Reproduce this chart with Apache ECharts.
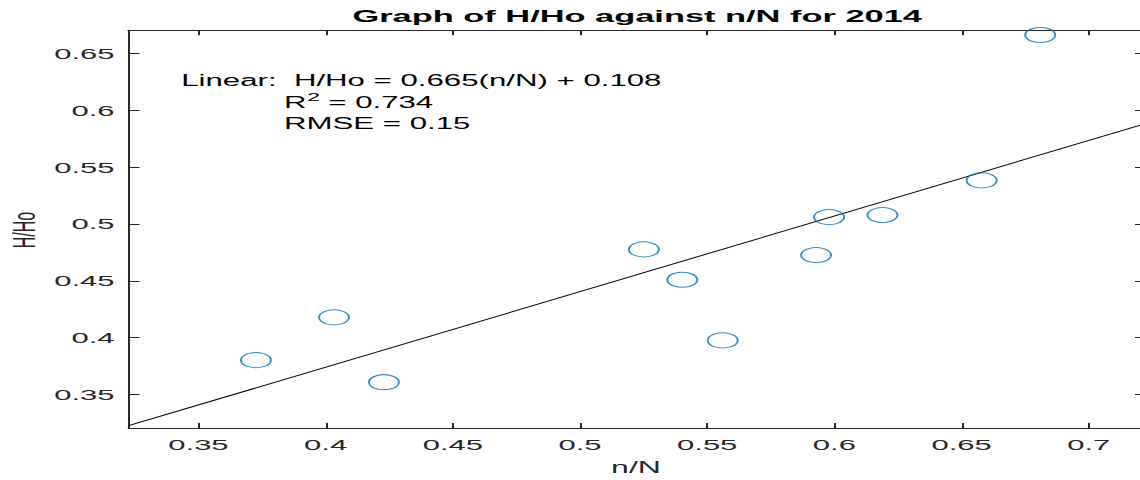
<!DOCTYPE html>
<html><head><meta charset="utf-8">
<script src="https://cdn.jsdelivr.net/npm/echarts@6/dist/echarts.min.js"></script>
<style>
html,body{margin:0;padding:0;background:#fff;overflow:hidden;}
#wrap{width:1140px;height:480px;overflow:hidden;}
#main{width:570px;height:480px;transform:scaleX(2);transform-origin:0 0;}
</style>
</head><body><div id="wrap"><div id="main"></div></div>
<script>
// ---- data ----
const nN  = [0.3726, 0.4033, 0.4229, 0.5251, 0.5402, 0.5561, 0.5928, 0.5979, 0.6189, 0.6579, 0.6809];
const HHo = [0.3802, 0.4179, 0.3608, 0.4777, 0.4510, 0.3976, 0.4727, 0.5061, 0.5079, 0.5384, 0.6664];
const fitX = [0.3225, 0.7225];
const fitY = [0.3225, 0.5885];
const xTicks = [0.35, 0.4, 0.45, 0.5, 0.55, 0.6, 0.65, 0.7];
const yTicks = [0.35, 0.4, 0.45, 0.5, 0.55, 0.6, 0.65];
const titleText = 'Graph of H/Ho against n/N for 2014';
const xName = 'n/N';
const yName = 'H/Ho';
const fitLine1 = 'Linear:  H/Ho = 0.665(n/N) + 0.108';
const r2Label = 'R', r2Sup = '2', r2Value = ' = 0.734';
const rmseLine = 'RMSE = 0.15';

// ---- chart (drawn at half width, stretched 2x horizontally like the reference) ----
const FONT = "'Liberation Sans', Arial, Helvetica, sans-serif";
const AX = '#262626';
const chart = echarts.init(document.getElementById('main'), null, {renderer: 'svg'});

const points = nN.map((x, i) => [x, HHo[i]]);
const fit = fitX.map((x, i) => [x, fitY[i]]);

const xMin = 0.3225, xMax = 0.7225, yMin = 0.3205, yMax = 0.6705;

function axisCommon(pos, showLabel, ticks, tickLen, isX) {
  return {
    type: 'value', position: pos, min: isX ? xMin : yMin, max: isX ? xMax : yMax,
    splitLine: {show: false},
    axisLine: {show: true, onZero: false, lineStyle: {color: AX, width: 1}},
    axisTick: {show: true, inside: true, length: tickLen, customValues: ticks, lineStyle: {color: AX, width: 1}},
    axisLabel: {show: showLabel, customValues: ticks, color: AX, fontFamily: FONT, fontSize: 15.5,
      margin: isX ? 9 : 7, formatter: v => String(+v.toFixed(4))},
    minorTick: {show: false}
  };
}

const option = {
  backgroundColor: '#fff',
  animation: false,
  grid: {left: 64.25, top: 30.3, right: -3, bottom: 52, containLabel: false, outerBoundsMode: 'none'},
  xAxis: [axisCommon('bottom', true, xTicks, 5, true), axisCommon('top', false, xTicks, 5, true)],
  yAxis: [axisCommon('left', true, yTicks, 5.5, false), axisCommon('right', false, yTicks, 5.5, false)],
  series: [
    {type: 'line', data: fit, showSymbol: false, symbol: 'none', lineStyle: {color: '#000', width: 0.9}, z: 2, silent: true},
    {type: 'scatter', data: points, symbol: 'circle', symbolSize: 15,
      itemStyle: {color: 'rgba(0,0,0,0)', borderColor: '#0072BD', borderWidth: 1}, z: 3}
  ],
  graphic: [
    {type: 'text', x: 318.6, y: 16, style: {text: titleText, font: 'bold 17.2px ' + FONT, fill: '#000', textAlign: 'center', textVerticalAlign: 'middle', verticalAlign: 'middle'}},
    {type: 'text', x: 318, y: 467, style: {text: xName, font: '16px ' + FONT, fill: AX, textAlign: 'center', textVerticalAlign: 'middle', verticalAlign: 'middle'}},
    {type: 'text', x: 12, y: 230, rotation: Math.PI / 2, style: {text: yName, font: '16px ' + FONT, fill: AX, textAlign: 'center', textVerticalAlign: 'middle', verticalAlign: 'middle'}},
    {type: 'text', x: 90.6, y: 81, style: {text: fitLine1, font: '15.6px ' + FONT, fill: '#000', textAlign: 'left', textVerticalAlign: 'middle', verticalAlign: 'middle'}},
    {type: 'text', x: 142, y: 103, style: {text: r2Label, font: '15.6px ' + FONT, fill: '#000', textAlign: 'left', textVerticalAlign: 'middle', verticalAlign: 'middle'}},
    {type: 'text', x: 153.6, y: 97, style: {text: r2Sup, font: '11.5px ' + FONT, fill: '#000', textAlign: 'left', textVerticalAlign: 'middle', verticalAlign: 'middle'}},
    {type: 'text', x: 159.8, y: 103, style: {text: r2Value, font: '15.6px ' + FONT, fill: '#000', textAlign: 'left', textVerticalAlign: 'middle', verticalAlign: 'middle'}},
    {type: 'text', x: 142, y: 124, style: {text: rmseLine, font: '15.6px ' + FONT, fill: '#000', textAlign: 'left', textVerticalAlign: 'middle', verticalAlign: 'middle'}}
  ]
};
chart.setOption(option);
</script>
</body></html>
